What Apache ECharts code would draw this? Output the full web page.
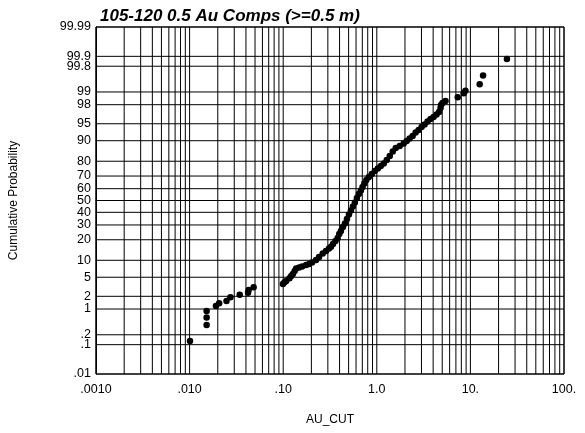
<!DOCTYPE html>
<html><head><meta charset="utf-8">
<script src="https://cdn.jsdelivr.net/npm/echarts@6/dist/echarts.min.js"></script>
<style>html,body{margin:0;padding:0;background:#fff}#c{width:585px;height:433px}</style>
</head><body><div id="c"></div>
<script>
// AU_CUT values (log x) and cumulative probabilities (percent)
const auCut = [
  0.0101, 0.0152, 0.0152, 0.0152, 0.0191, 0.0207, 0.0248, 0.0273, 0.0343, 0.0421, 0.0427, 0.0483,
  0.0993, 0.1032, 0.1076, 0.1167, 0.1217, 0.1269, 0.1326, 0.1375, 0.1480, 0.1593, 0.1757, 0.1890,
  0.2035, 0.2244, 0.2415, 0.2644, 0.2867, 0.3086, 0.3240, 0.3404, 0.3618, 0.3818, 0.3971, 0.4140,
  0.4347, 0.4566, 0.4795, 0.5037, 0.5290, 0.5556, 0.5834, 0.6128, 0.6435, 0.6758, 0.7045, 0.7362,
  0.7731, 0.8222, 0.8850, 0.9521, 1.0247, 1.103, 1.187, 1.278, 1.375, 1.480, 1.593, 1.757,
  1.938, 2.085, 2.244, 2.415, 2.599, 2.797, 3.010, 3.240, 3.487, 3.753, 4.040, 4.347,
  4.623, 4.797, 4.856, 5.037, 5.420, 7.327, 8.486, 8.849, 12.56, 13.65, 24.57
];
const cumProb = [
  0.13, 0.38, 0.61, 0.89, 1.19, 1.38, 1.56, 1.90, 2.17, 2.41, 2.75, 3.14,
  3.67, 3.98, 4.22, 4.77, 5.28, 5.76, 6.54, 7.25, 7.55, 7.86, 8.34, 8.67,
  9.19, 10.11, 11.29, 12.80, 13.95, 15.18, 16.10, 17.55, 19.26, 21.07, 23.63, 25.66,
  28.50, 31.10, 34.58, 38.20, 41.51, 44.88, 48.29, 52.14, 55.54, 58.49, 61.39, 64.22,
  66.98, 69.28, 71.50, 73.64, 75.36, 77.02, 78.61, 80.74, 82.99, 85.32, 86.98, 87.87,
  88.91, 89.89, 90.81, 91.66, 92.75, 93.46, 94.24, 94.84, 95.48, 95.97, 96.33, 96.74,
  97.11, 97.63, 97.97, 98.17, 98.35, 98.65, 98.92, 99.07, 99.36, 99.63, 99.88
];
const probTicks = [0.01, 0.1, 0.2, 1, 2, 5, 10, 20, 30, 40, 50, 60, 70, 80, 90, 95, 98, 99, 99.8, 99.9, 99.99];
const probTickLabels = ['.01', '.1', '.2', '1', '2', '5', '10', '20', '30', '40', '50', '60', '70', '80', '90', '95', '98', '99', '99.8', '99.9', '99.99'];
const xTickValues = [0.001, 0.01, 0.1, 1, 10, 100];
const xTickLabels = ['.0010', '.010', '.10', '1.0', '10.', '100.'];
const xGridMultipliers = [1, 2, 3, 4, 5, 6, 7, 8, 9];

function probit(p) {
  const a = [-3.969683028665376e+01, 2.209460984245205e+02, -2.759285104469687e+02, 1.383577518672690e+02, -3.066479806614716e+01, 2.506628277459239e+00];
  const b = [-5.447609879822406e+01, 1.615858368580409e+02, -1.556989798598866e+02, 6.680131188771972e+01, -1.328068155288572e+01];
  const c = [-7.784894002430293e-03, -3.223964580411365e-01, -2.400758277161838e+00, -2.549732539343734e+00, 4.374664141464968e+00, 2.938163982698783e+00];
  const d = [7.784695709041462e-03, 3.224671290700398e-01, 2.445134137142996e+00, 3.754408661907416e+00];
  const pl = 0.02425, ph = 1 - pl;
  let q, r;
  if (p < pl) { q = Math.sqrt(-2 * Math.log(p)); return (((((c[0]*q+c[1])*q+c[2])*q+c[3])*q+c[4])*q+c[5]) / ((((d[0]*q+d[1])*q+d[2])*q+d[3])*q+1); }
  if (p <= ph) { q = p - 0.5; r = q*q; return (((((a[0]*r+a[1])*r+a[2])*r+a[3])*r+a[4])*r+a[5])*q / (((((b[0]*r+b[1])*r+b[2])*r+b[3])*r+b[4])*r+1); }
  q = Math.sqrt(-2 * Math.log(1 - p)); return -(((((c[0]*q+c[1])*q+c[2])*q+c[3])*q+c[4])*q+c[5]) / ((((d[0]*q+d[1])*q+d[2])*q+d[3])*q+1);
}
const zOf = pct => probit(pct / 100);
const probTickZ = probTicks.map(zOf);
const zMin = zOf(0.01), zMax = zOf(99.99);
const xMin = 0.001, xMax = 100;

function nearestLabel(v, values, labels, tf) {
  let best = 0, bd = Infinity;
  values.forEach((t, i) => { const dd = Math.abs(tf(t) - tf(v)); if (dd < bd) { bd = dd; best = i; } });
  return labels[best];
}

const points = auCut.map((x, i) => [x, zOf(cumProb[i])]);

// grid lines drawn as line series through the axes
const gridSeries = [];
const gridStyle = { color: '#000', width: 1 };
function addGridLine(data) {
  gridSeries.push({
    type: 'line', data: data, z: 1, silent: true, symbol: 'none',
    lineStyle: gridStyle, clip: false, animation: false
  });
}
for (let e = -3; e <= 1; e++) xGridMultipliers.forEach(m => {
  const v = m * Math.pow(10, e);
  addGridLine([[v, zMin], [v, zMax]]);
});
addGridLine([[xMax, zMin], [xMax, zMax]]);
probTickZ.forEach(z => addGridLine([[xMin, z], [xMax, z]]));

const font = 'Liberation Sans, Arial, sans-serif';
const chart = echarts.init(document.getElementById('c'));
chart.setOption({
  animation: false,
  backgroundColor: '#fff',
  title: {
    text: '105-120 0.5 Au Comps (>=0.5 m)', left: 95, top: 3,
    textStyle: { fontFamily: font, fontSize: 17, fontWeight: 'bold', fontStyle: 'italic', color: '#000' }
  },
  grid: { left: 94, right: 21, top: 27, bottom: 59, show: true, borderColor: '#000', borderWidth: 1 },
  xAxis: {
    type: 'log', logBase: 10, min: xMin, max: xMax,
    name: 'AU_CUT', nameLocation: 'middle', nameGap: 40,
    nameTextStyle: { fontFamily: font, fontSize: 12, color: '#000' },
    axisLine: { show: true, lineStyle: { color: '#000' } },
    axisTick: { show: false }, splitLine: { show: false },
    axisLabel: {
      customValues: xTickValues, margin: 9, fontFamily: font, fontSize: 12.5, color: '#000',
      formatter: v => nearestLabel(v, xTickValues, xTickLabels, t => Math.log10(t))
    }
  },
  yAxis: {
    type: 'value', min: zMin, max: zMax,
    name: 'Cumulative Probability', nameLocation: 'middle', nameGap: 76,
    nameTextStyle: { fontFamily: font, fontSize: 12, color: '#000' },
    axisLine: { show: true, lineStyle: { color: '#000' } },
    axisTick: { show: false }, splitLine: { show: false },
    axisLabel: {
      customValues: probTickZ, margin: 5, fontFamily: font, fontSize: 12.5, color: '#000',
      formatter: v => nearestLabel(v, probTickZ, probTickLabels, t => t)
    }
  },
  series: gridSeries.concat([
    {
      type: 'scatter', data: points, z: 5, symbol: 'circle', symbolSize: 6.5,
      itemStyle: { color: '#000', opacity: 1 }
    }
  ])
});
</script></body></html>
